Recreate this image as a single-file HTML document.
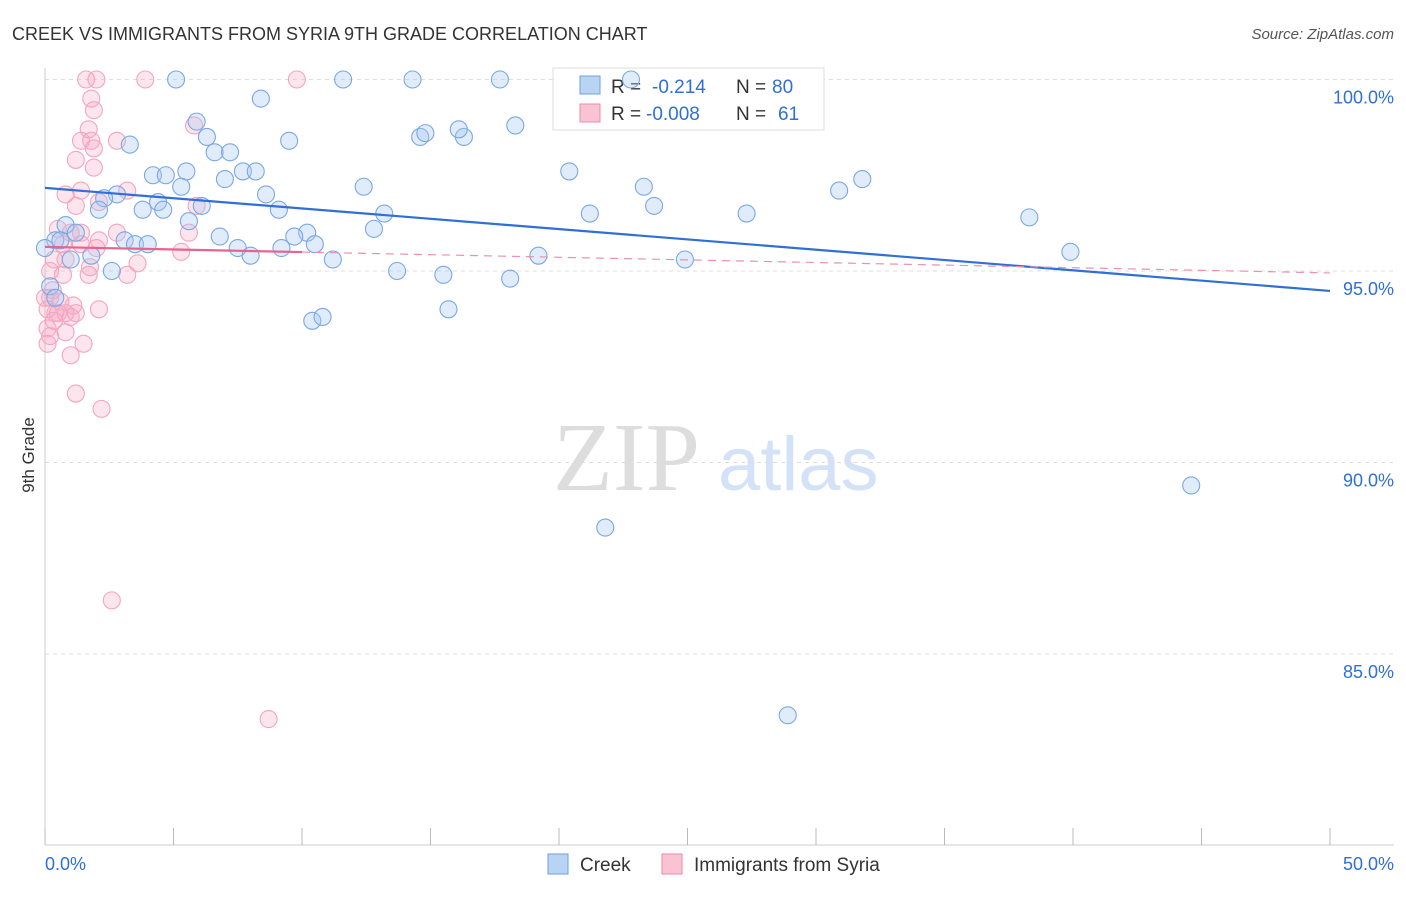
<!DOCTYPE html>
<html><head><meta charset="utf-8"><style>
body{margin:0;background:#fff;font-family:"Liberation Sans",sans-serif;}
svg text{font-family:"Liberation Sans",sans-serif;}
</style></head><body>
<svg id="c" width="1406" height="892" xmlns="http://www.w3.org/2000/svg">
<text x="12" y="40" font-size="18" fill="#333">CREEK VS IMMIGRANTS FROM SYRIA 9TH GRADE CORRELATION CHART</text>
<text x="1394" y="39" font-size="15" fill="#555" text-anchor="end" font-style="italic">Source: ZipAtlas.com</text>
<text x="553" y="490" font-size="98" fill="#ddd" style="font-family:'Liberation Serif',serif">ZIP</text>
<text x="718" y="490" font-size="76" fill="#d3e2f6">atlas</text>
<text x="34" y="455" font-size="17" fill="#333" text-anchor="middle" transform="rotate(-90 34 455)">9th Grade</text>
<g id="grid"></g>
<g>
<rect x="553" y="68" width="271" height="62" fill="#fff" stroke="#ddd"/>
<rect x="580" y="76" width="20" height="18" fill="#b9d3f3" stroke="#6fa0e0"/>
<rect x="580" y="104" width="20" height="18" fill="#f9c3d4" stroke="#f08aa8"/>
<text x="611" y="93" font-size="19" fill="#333">R =</text><text x="652" y="93" font-size="19" fill="#2f6fd6">-0.214</text>
<text x="736" y="93" font-size="19" fill="#333">N =</text><text x="772" y="93" font-size="19" fill="#2f6fd6">80</text>
<text x="611" y="120" font-size="19" fill="#333">R =</text><text x="646" y="120" font-size="19" fill="#2f6fd6">-0.008</text>
<text x="736" y="120" font-size="19" fill="#333">N =</text><text x="778" y="120" font-size="19" fill="#2f6fd6">61</text>
</g>
<g id="pts"></g><g id="lines"></g>
<g>
<rect x="548" y="854" width="20" height="20" fill="#b9d3f3" stroke="#6fa0e0"/>
<text x="580" y="871" font-size="19" fill="#333">Creek</text>
<rect x="662" y="854" width="20" height="20" fill="#f9c3d4" stroke="#f08aa8"/>
<text x="694" y="871" font-size="19" fill="#333">Immigrants from Syria</text>
</g>
</svg>
<script>
const yTicks=[100,95,90,85];
const xLabels=["0.0%","50.0%"];
const creekX=[5.1,11.6,14.3,17.7,22.8,8.4,5.9,6.3,14.6,14.8,16.3,16.1,18.3,3.3,6.6,7.2,9.5,4.2,4.7,5.5,7.0,7.7,8.2,5.3,2.8,8.6,12.4,20.4,23.3,30.9,31.8,2.3,2.1,3.8,4.4,4.6,6.1,9.1,13.2,12.8,21.2,23.7,27.3,38.3,0.8,1.2,5.6,10.2,9.7,0.4,3.1,3.5,4.0,6.8,7.5,8.0,9.2,10.5,11.2,19.2,24.9,39.9,1.0,1.8,2.6,13.7,15.5,18.1,15.7,10.4,10.8,44.6,21.8,28.9,0.2,0.4,0.6,0.0];
const creekY=[100,100,100,100,100,99.5,98.9,98.5,98.5,98.6,98.5,98.7,98.8,98.3,98.1,98.1,98.4,97.5,97.5,97.6,97.4,97.6,97.6,97.2,97.0,97.0,97.2,97.6,97.2,97.1,97.4,96.9,96.6,96.6,96.8,96.6,96.7,96.6,96.5,96.1,96.5,96.7,96.5,96.4,96.2,96.0,96.3,96.0,95.9,95.8,95.8,95.7,95.7,95.9,95.6,95.4,95.6,95.7,95.3,95.4,95.3,95.5,95.3,95.4,95.0,95.0,94.9,94.8,94.0,93.7,93.8,89.4,88.3,83.4,94.6,94.3,95.8,95.6];
const syriaX=[1.6,2.0,3.9,9.8,1.8,1.9,5.8,1.7,2.8,1.4,1.8,1.9,1.2,1.9,3.2,1.4,0.8,1.2,2.1,5.9,0.5,1.0,1.4,2.8,5.6,2.1,1.4,0.7,2.0,5.3,0.35,0.8,3.6,0.2,0.7,1.7,3.2,0.2,0.6,0.1,1.1,2.1,0.4,1.0,0.1,0.8,0.2,0.1,1.5,1.0,1.2,2.2,2.6,8.7,0.5,1.75,0.3,0.0,0.8,1.2,0.35];
const syriaY=[100,100,100,100,99.5,99.2,98.8,98.7,98.4,98.4,98.4,98.2,97.9,97.7,97.1,97.1,97.0,96.7,96.8,96.7,96.1,96.0,96.0,96.0,96.0,95.8,95.7,95.7,95.6,95.5,95.3,95.3,95.2,95.0,94.9,94.9,94.9,94.3,94.2,94.0,94.1,94.0,93.9,93.8,93.5,93.4,93.3,93.1,93.1,92.8,91.8,91.4,86.4,83.3,93.9,95.1,94.5,94.3,93.9,93.9,93.7];
const trendCreek=[97.17,94.48];
const trendSyria=[95.63,94.95];
const syriaSolidEnd=10;
const NS="http://www.w3.org/2000/svg";
const X=v=>45+v*25.7, Y=v=>79.5+(100-v)*38.3;
function mk(t,a,p){const e=document.createElementNS(NS,t);for(const k in a)e.setAttribute(k,a[k]);p.appendChild(e);return e;}
const g=document.getElementById('grid');
yTicks.forEach(t=>{
 const l=mk('line',{x1:45,x2:1394,y1:Y(t),y2:Y(t),stroke:'#ddd','stroke-dasharray':'4 4'},g);
 
 
 const tx=mk('text',{x:1394,y:Y(t)+24,'font-size':18,fill:'#2f6fd6','text-anchor':'end'},g);tx.textContent=t.toFixed(1)+'%';
 
 
});
const ax=mk('line',{x1:45,x2:45,y1:68,y2:845,stroke:'#ccc'},g);


const bx=mk('line',{x1:45,x2:1394,y1:845,y2:845,stroke:'#ccc'},g);


for(let i=0;i<=10;i++){const t=mk('line',{x1:X(i*5),x2:X(i*5),y1:828,y2:845,stroke:'#bbb'},g);
 
 }
[[0,'start',45],[50,'end',1394]].forEach((d,i)=>{const t=mk('text',{x:d[2],y:870,'font-size':18,fill:'#2f6fd6','text-anchor':d[1]},g);t.textContent=xLabels[i];
 
 });
const p=document.getElementById('pts');
syriaX.forEach((x,i)=>{const c=mk('circle',{cx:X(x),cy:Y(syriaY[i]),r:8.5,fill:'rgba(247,170,196,0.3)',stroke:'#f4a5be','stroke-width':1.1},p);
 
 });
creekX.forEach((x,i)=>{const c=mk('circle',{cx:X(x),cy:Y(creekY[i]),r:8.5,fill:'rgba(170,200,240,0.35)',stroke:'#7aa8e4','stroke-width':1.1},p);
 
 });
const L=document.getElementById('lines');
const bl=mk('line',{x1:X(0),y1:Y(trendCreek[0]),x2:X(50),y2:Y(trendCreek[1]),stroke:'#2f6fd6','stroke-width':2.2},L);


const sy=v=>trendSyria[0]+(trendSyria[1]-trendSyria[0])*v/50;
const pd=mk('line',{x1:X(syriaSolidEnd),y1:Y(sy(syriaSolidEnd)),x2:X(50),y2:Y(trendSyria[1]),stroke:'#ee8fae','stroke-width':1.2,'stroke-dasharray':'8 6'},L);


const ps=mk('line',{x1:X(0),y1:Y(trendSyria[0]),x2:X(syriaSolidEnd),y2:Y(sy(syriaSolidEnd)),stroke:'#e8638f','stroke-width':2.2},L);


</script>
</body></html>
